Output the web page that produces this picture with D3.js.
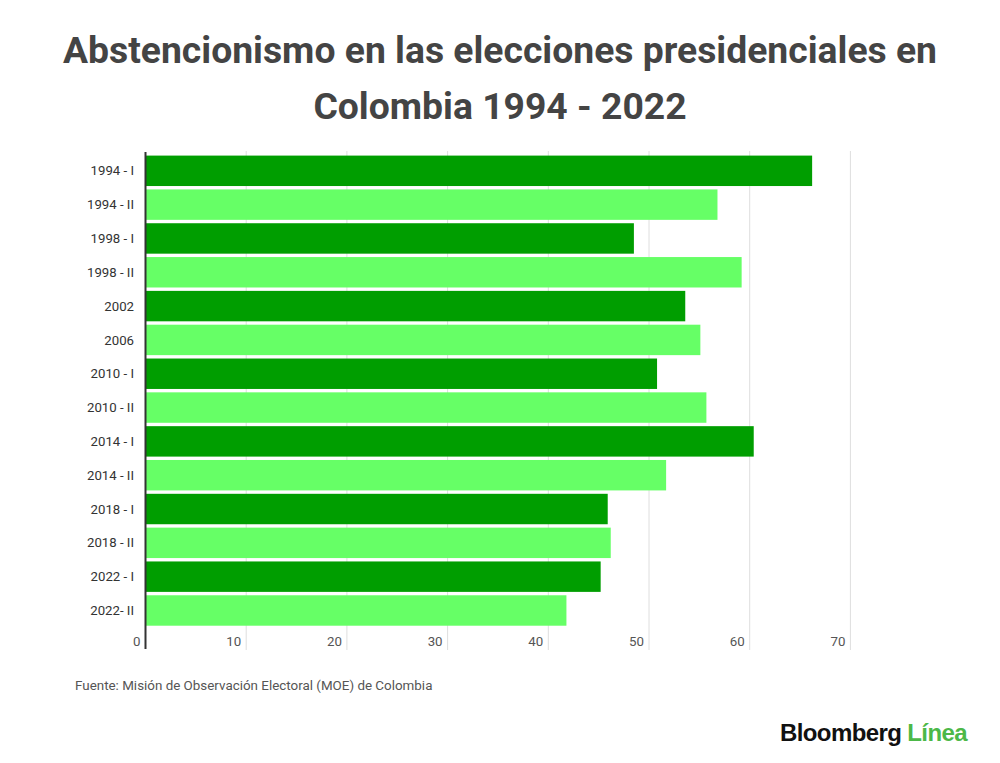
<meta charset="utf-8">
<html>
<head>
    <title> Abstencionismo Colombia </title>
    <script src="https://cdn.jsdelivr.net/npm/d3@7"></script>
    <style>
        body { margin: 0; background: #fff; }
        svg text { font-family: Roboto, "Noto Sans", sans-serif; }
    </style>
</head>
<body>
<div id="chart"></div>
<script>

    // datos
    var categories = ["1994 - I", "1994 - II", "1998 - I", "1998 - II", "2002", "2006", "2010 - I",
        "2010 - II", "2014 - I", "2014 - II", "2018 - I", "2018 - II", "2022 - I", "2022- II"];
    var values = [66.2, 56.8, 48.5, 59.2, 53.6, 55.1, 50.8, 55.7, 60.4, 51.7, 45.9, 46.2, 45.2, 41.8];
    var xTicks = [0, 10, 20, 30, 40, 50, 60, 70];
    var titleLines = ["Abstencionismo en las elecciones presidenciales en", "Colombia 1994 - 2022"];
    var source = "Fuente: Misión de Observación Electoral (MOE) de Colombia";

    var width = 1000, height = 763;
    var svg = d3.select("#chart").append("svg").attr("width", width).attr("height", height);

    svg.selectAll("text.title").data(titleLines).enter()
        .append("text").attr("class", "title")
        .attr("x", 500).attr("y", function (d, i) { return 63 + i * 56; })
        .attr("text-anchor", "middle")
        .attr("font-size", 37.3).attr("font-weight", "bold").attr("fill", "#444")
        .text(function (d) { return d; });

    var x = d3.scaleLinear().domain([0, 70]).range([145.5, 850.4]);
    var y = d3.scaleBand().domain(categories).range([153.9, 627.4]).paddingInner(0.1).paddingOuter(0.05);

    // rejilla
    svg.append("g").selectAll("line").data(xTicks.slice(1)).enter()
        .append("line")
        .attr("x1", function (d) { return x(d); }).attr("x2", function (d) { return x(d); })
        .attr("y1", 151).attr("y2", 650)
        .attr("stroke", "#dedede").attr("stroke-width", 1);

    svg.append("g").selectAll("rect").data(values).enter()
        .append("rect")
        .attr("x", x(0))
        .attr("y", function (d, i) { return y(categories[i]); })
        .attr("width", function (d) { return x(d) - x(0); })
        .attr("height", y.bandwidth())
        .attr("fill", function (d, i) { return i % 2 == 0 ? "#009e00" : "#66ff66"; });

    // eje vertical
    svg.append("line").attr("x1", x(0)).attr("x2", x(0)).attr("y1", 152).attr("y2", 649)
        .attr("stroke", "#333").attr("stroke-width", 2);

    svg.append("g").selectAll("text").data(categories).enter()
        .append("text")
        .attr("x", 134)
        .attr("y", function (d) { return y(d) + y.bandwidth() / 2; })
        .attr("dy", "0.35em").attr("text-anchor", "end")
        .attr("font-size", 13.2).attr("fill", "#333")
        .text(function (d) { return d; });

    svg.append("g").selectAll("text").data(xTicks).enter()
        .append("text")
        .attr("x", function (d) { return x(d) - 5; })
        .attr("y", 646).attr("text-anchor", "end")
        .attr("font-size", 13.3).attr("fill", "#555")
        .text(function (d) { return d; });

    svg.append("text").attr("x", 75).attr("y", 690)
        .attr("font-size", 13.4).attr("fill", "#555").text(source);

    var logo = svg.append("text").attr("x", 967).attr("y", 741).attr("text-anchor", "end")
        .attr("font-size", 24).attr("font-weight", "bold").attr("letter-spacing", "-0.6")
        .style("font-family", "'Liberation Sans', Arial, sans-serif");
    logo.append("tspan").attr("fill", "#111").text("Bloomberg ");
    logo.append("tspan").attr("fill", "#4cb848").text("Línea");

</script>
</body>
</html>
